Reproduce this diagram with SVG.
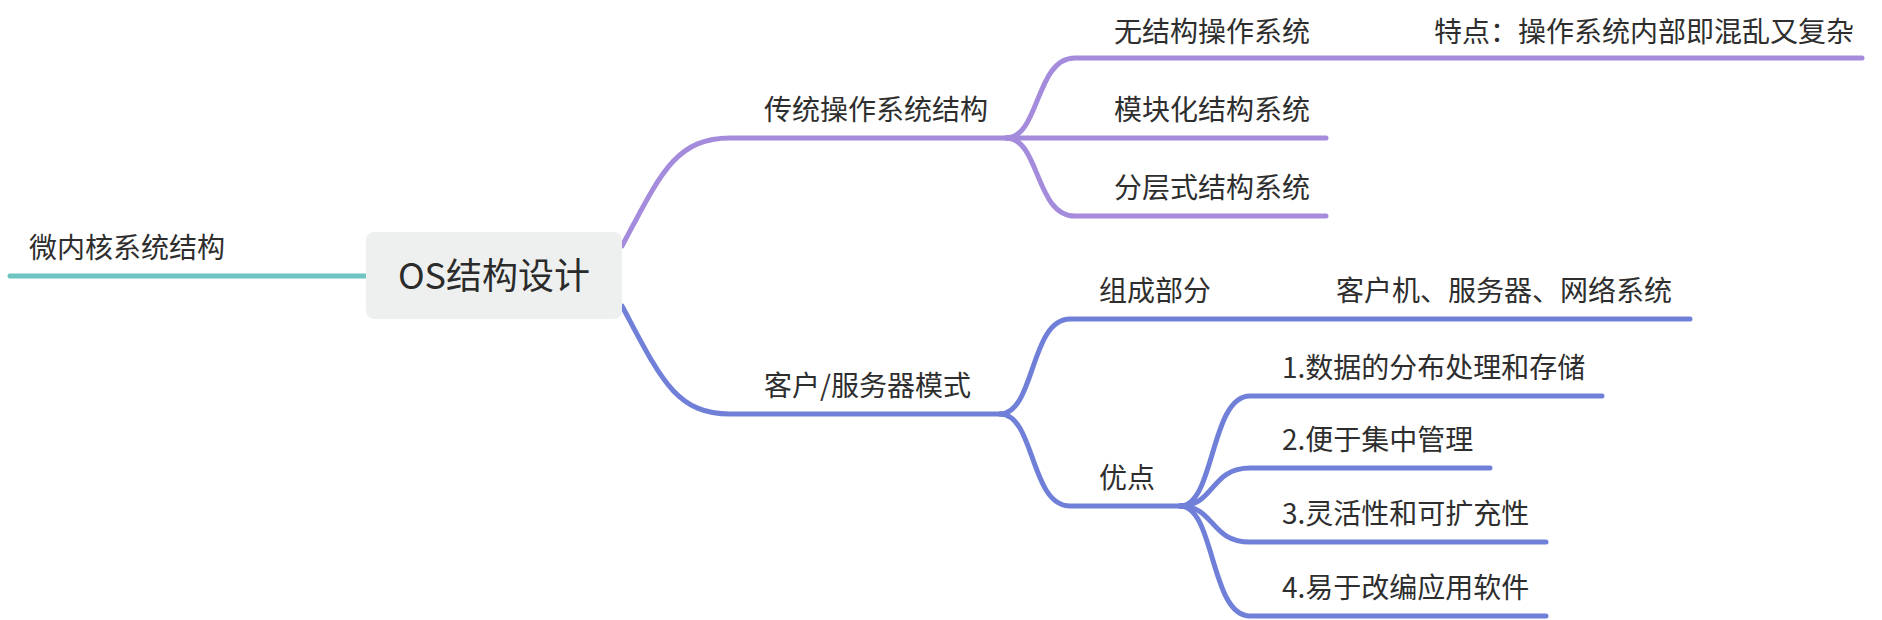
<svg xmlns="http://www.w3.org/2000/svg" width="1882" height="620" viewBox="0 0 1882 620">
<style>
.t{font-family:"Noto Sans CJK SC","Noto Sans",sans-serif;font-size:28px;fill:#2e2e2e}
.c{font-family:"Noto Sans CJK SC","Noto Sans",sans-serif;font-size:36px;fill:#2b2b2b}
.p{fill:none;stroke:#A48BDC;stroke-width:5;stroke-linecap:round}
.b{fill:none;stroke:#7080D8;stroke-width:5;stroke-linecap:round}
.g{fill:none;stroke:#6EC4C1;stroke-width:5;stroke-linecap:round}
</style>
<rect width="1882" height="620" fill="#ffffff"/>
<g id="connectors">
<path class="g" d="M10,276 H366"/>
<path class="p" d="M622,246 C660,175 675,138 730,138 H1014"/>
<path class="p" d="M1006,138 C1040,138 1035,58 1075,58 H1862"/>
<path class="p" d="M1006,138 H1326"/>
<path class="p" d="M1006,138 C1040,138 1035,216 1075,216 H1326"/>
<path class="b" d="M622,306 C660,377 675,414 730,414 H1006"/>
<path class="b" d="M1000,414 C1035,414 1030,319 1070,319 H1690"/>
<path class="b" d="M1000,414 C1035,414 1030,506 1070,506 H1188"/>
<path class="b" d="M1180,506 C1215,506 1210,396 1250,396 H1602"/>
<path class="b" d="M1180,506 C1215,506 1210,468 1250,468 H1490"/>
<path class="b" d="M1180,506 C1215,506 1210,542 1250,542 H1546"/>
<path class="b" d="M1180,506 C1215,506 1210,616 1250,616 H1546"/>
</g>
<g id="n-root"><rect x="366" y="232" width="256" height="87" rx="8" fill="#EEF0EF"/><text class="c" x="494" y="289" text-anchor="middle">OS结构设计</text></g>
<g id="n-micro"><text class="t" x="29" y="258">微内核系统结构</text></g>
<g id="n-trad"><text class="t" x="764" y="120">传统操作系统结构</text></g>
<g id="n-unstruct"><text class="t" x="1114" y="42">无结构操作系统</text></g>
<g id="n-feature"><text class="t" x="1434" y="42">特点：操作系统内部即混乱又复杂</text></g>
<g id="n-module"><text class="t" x="1114" y="120">模块化结构系统</text></g>
<g id="n-layer"><text class="t" x="1114" y="198">分层式结构系统</text></g>
<g id="n-cs"><text class="t" x="764" y="396">客户/服务器模式</text></g>
<g id="n-parts"><text class="t" x="1099" y="301">组成部分</text></g>
<g id="n-parts-c"><text class="t" x="1336" y="301">客户机、服务器、网络系统</text></g>
<g id="n-adv"><text class="t" x="1099" y="488">优点</text></g>
<g id="n-a1"><text class="t" x="1282" y="378">1.数据的分布处理和存储</text></g>
<g id="n-a2"><text class="t" x="1282" y="450">2.便于集中管理</text></g>
<g id="n-a3"><text class="t" x="1282" y="524">3.灵活性和可扩充性</text></g>
<g id="n-a4"><text class="t" x="1282" y="598">4.易于改编应用软件</text></g>
</svg>
